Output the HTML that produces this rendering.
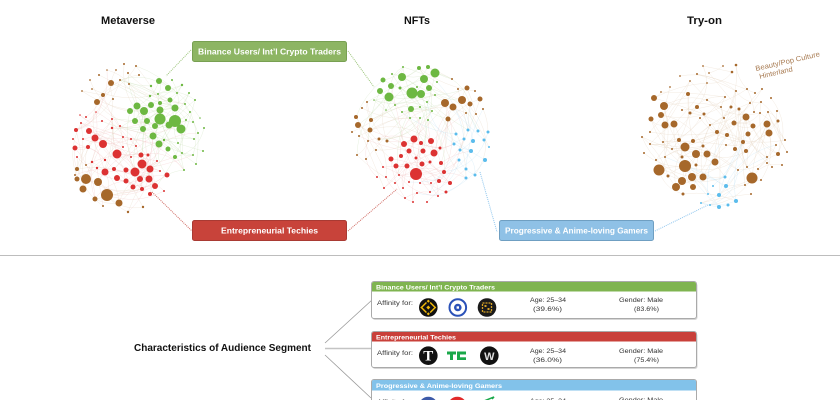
<!DOCTYPE html>
<html><head><meta charset="utf-8">
<style>
html,body{margin:0;padding:0;background:#fff;}
body{width:840px;height:400px;overflow:hidden;}
svg{display:block;font-family:"Liberation Sans",sans-serif;}
</style></head>
<body>
<svg id="s" width="840" height="400" viewBox="0 0 840 400" xmlns="http://www.w3.org/2000/svg">
<rect width="840" height="400" fill="#fff"/>

<!-- titles -->
<text x="101" y="24" font-size="11" font-weight="bold" fill="#111" textLength="54" lengthAdjust="spacingAndGlyphs">Metaverse</text>
<text x="404" y="24" font-size="11" font-weight="bold" fill="#111" textLength="26" lengthAdjust="spacingAndGlyphs">NFTs</text>
<text x="687" y="24" font-size="11" font-weight="bold" fill="#111" textLength="35" lengthAdjust="spacingAndGlyphs">Try-on</text>

<!-- dotted connectors -->
<g fill="none" stroke-width="1" stroke-dasharray="1 1">
<line x1="191" y1="50" x2="166" y2="76" stroke="#9cc57a"/>
<line x1="348" y1="51" x2="374" y2="87" stroke="#9cc57a"/>
<line x1="152" y1="192" x2="192" y2="231" stroke="#d06a62"/>
<line x1="348" y1="231" x2="397" y2="189" stroke="#d06a62"/>
<line x1="480" y1="172" x2="497" y2="232" stroke="#8fc6ee"/>
<line x1="655" y1="231" x2="708" y2="205" stroke="#8fc6ee"/>
</g>

<!-- Metaverse network -->
<g class="net">
<g fill="#a6682b">
<circle cx="111" cy="83" r="3"/><circle cx="103" cy="95" r="2"/><circle cx="97" cy="102" r="3"/><circle cx="124" cy="64" r="1"/><circle cx="136" cy="66" r="1"/><circle cx="116" cy="70" r="0.9"/><circle cx="107" cy="70" r="0.8"/><circle cx="99" cy="75" r="1"/><circle cx="139" cy="75" r="1"/><circle cx="90" cy="80" r="0.9"/><circle cx="113" cy="99" r="1"/><circle cx="120" cy="80" r="1"/><circle cx="128" cy="73" r="1"/><circle cx="82" cy="91" r="0.9"/><circle cx="92" cy="89" r="0.9"/><circle cx="129" cy="84" r="1"/>
<circle cx="86" cy="179" r="5"/><circle cx="98" cy="182" r="4"/><circle cx="77" cy="179" r="2.5"/><circle cx="83" cy="189" r="3.5"/><circle cx="77" cy="169" r="2"/><circle cx="107" cy="195" r="6"/><circle cx="119" cy="203" r="3.5"/><circle cx="95" cy="199" r="2.5"/><circle cx="128" cy="212" r="1.2"/><circle cx="143" cy="207" r="1.2"/><circle cx="103" cy="206" r="1"/><circle cx="75" cy="175" r="1"/><circle cx="86" cy="165" r="1"/>
</g>
<g fill="#6db842">
<circle cx="159" cy="81" r="3"/><circle cx="168" cy="88" r="3"/><circle cx="151" cy="86" r="1.2"/><circle cx="182" cy="85" r="1.2"/><circle cx="170" cy="100" r="2.5"/><circle cx="160" cy="103" r="2"/><circle cx="150" cy="96" r="1.2"/><circle cx="175" cy="108" r="3.5"/><circle cx="137" cy="106" r="3.5"/><circle cx="130" cy="111" r="3"/><circle cx="144" cy="111" r="4"/><circle cx="151" cy="105" r="3"/><circle cx="160" cy="110" r="3.5"/><circle cx="160" cy="119" r="5.5"/><circle cx="175" cy="121" r="6"/><circle cx="169" cy="125" r="3.5"/><circle cx="181" cy="129" r="4.5"/><circle cx="135" cy="121" r="3"/><circle cx="147" cy="121" r="3"/><circle cx="155" cy="126" r="3"/><circle cx="143" cy="129" r="3"/><circle cx="153" cy="136" r="3.5"/><circle cx="159" cy="144" r="3.5"/><circle cx="168" cy="149" r="2.5"/><circle cx="175" cy="157" r="2"/><circle cx="185" cy="104" r="1"/><circle cx="189" cy="93" r="1"/><circle cx="195" cy="100" r="1"/><circle cx="198" cy="133" r="1"/><circle cx="204" cy="128" r="1"/><circle cx="193" cy="122" r="1"/><circle cx="186" cy="120" r="1"/><circle cx="194" cy="139" r="1"/><circle cx="182" cy="153" r="1"/><circle cx="203" cy="151" r="1"/><circle cx="193" cy="155" r="1"/><circle cx="184" cy="170" r="1"/><circle cx="196" cy="164" r="1"/><circle cx="164" cy="140" r="1.2"/><circle cx="177" cy="93" r="1"/><circle cx="158" cy="94" r="1"/><circle cx="172" cy="80" r="1"/><circle cx="190" cy="112" r="1"/><circle cx="200" cy="118" r="0.8"/><circle cx="178" cy="143" r="1"/>
</g>
<g fill="#dc3232">
<circle cx="76" cy="130" r="2"/><circle cx="89" cy="131" r="3"/><circle cx="95" cy="138" r="3.5"/><circle cx="103" cy="144" r="4"/><circle cx="75" cy="148" r="2.5"/><circle cx="88" cy="147" r="2"/><circle cx="117" cy="154" r="4.5"/><circle cx="141" cy="155" r="2.5"/><circle cx="148" cy="155" r="1.5"/><circle cx="142" cy="164" r="4.5"/><circle cx="150" cy="169" r="3.5"/><circle cx="135" cy="172" r="4.5"/><circle cx="126" cy="170" r="2.5"/><circle cx="114" cy="169" r="2"/><circle cx="105" cy="172" r="3.5"/><circle cx="117" cy="178" r="3"/><circle cx="126" cy="181" r="2.5"/><circle cx="140" cy="179" r="3"/><circle cx="149" cy="179" r="3.5"/><circle cx="167" cy="175" r="2.5"/><circle cx="133" cy="187" r="2.5"/><circle cx="142" cy="189" r="2"/><circle cx="155" cy="186" r="3"/><circle cx="150" cy="194" r="2"/><circle cx="86" cy="117" r="1"/><circle cx="81" cy="123" r="1"/><circle cx="73" cy="139" r="1"/><circle cx="83" cy="139" r="1"/><circle cx="77" cy="157" r="1"/><circle cx="102" cy="121" r="1"/><circle cx="112" cy="119" r="1"/><circle cx="120" cy="126" r="1"/><circle cx="112" cy="128" r="1.2"/><circle cx="123" cy="137" r="1"/><circle cx="131" cy="139" r="1"/><circle cx="136" cy="146" r="1"/><circle cx="105" cy="160" r="1.2"/><circle cx="92" cy="162" r="1.2"/><circle cx="97" cy="168" r="1.2"/><circle cx="157" cy="161" r="1"/><circle cx="131" cy="157" r="1"/><circle cx="123" cy="147" r="1"/><circle cx="164" cy="191" r="1"/><circle cx="80" cy="115" r="0.8"/><circle cx="96" cy="112" r="0.8"/><circle cx="160" cy="171" r="1"/>
</g>
</g>

<!-- NFTs network -->
<g class="net">
<g fill="#6db842">
<circle cx="383" cy="80" r="2.5"/><circle cx="402" cy="77" r="4"/><circle cx="419" cy="68" r="2"/><circle cx="428" cy="67" r="2"/><circle cx="435" cy="73" r="4.5"/><circle cx="424" cy="79" r="4"/><circle cx="391" cy="86" r="3"/><circle cx="380" cy="91" r="3"/><circle cx="389" cy="97" r="4.5"/><circle cx="412" cy="93" r="5.5"/><circle cx="421" cy="94" r="4"/><circle cx="429" cy="88" r="3"/><circle cx="411" cy="109" r="3"/><circle cx="403" cy="67" r="1"/><circle cx="400" cy="88" r="1.5"/><circle cx="392" cy="74" r="1"/><circle cx="437" cy="82" r="1"/><circle cx="417" cy="87" r="1"/><circle cx="427" cy="102" r="1"/><circle cx="420" cy="107" r="1"/><circle cx="432" cy="111" r="1"/><circle cx="410" cy="118" r="1"/><circle cx="420" cy="118" r="1"/><circle cx="428" cy="120" r="1"/><circle cx="402" cy="112" r="1"/><circle cx="395" cy="105" r="1"/><circle cx="435" cy="95" r="1"/><circle cx="386" cy="110" r="0.8"/><circle cx="374" cy="100" r="0.8"/>
</g>
<g fill="#a6682b">
<circle cx="445" cy="103" r="4"/><circle cx="453" cy="107" r="3.5"/><circle cx="462" cy="100" r="4"/><circle cx="467" cy="88" r="2.5"/><circle cx="470" cy="104" r="2.5"/><circle cx="480" cy="99" r="2.5"/><circle cx="448" cy="119" r="2.5"/><circle cx="356" cy="117" r="2"/><circle cx="358" cy="125" r="3"/><circle cx="371" cy="120" r="2"/><circle cx="370" cy="130" r="2.5"/><circle cx="387" cy="141" r="1.5"/><circle cx="379" cy="139" r="1.5"/><circle cx="483" cy="109" r="1"/><circle cx="452" cy="79" r="1"/><circle cx="458" cy="89" r="1"/><circle cx="475" cy="91" r="1"/><circle cx="476" cy="114" r="1"/><circle cx="466" cy="113" r="1"/><circle cx="357" cy="155" r="1"/><circle cx="366" cy="159" r="1"/><circle cx="359" cy="136" r="1"/><circle cx="368" cy="141" r="1"/><circle cx="367" cy="102" r="1"/><circle cx="376" cy="150" r="1"/><circle cx="352" cy="132" r="1"/><circle cx="362" cy="108" r="1"/>
</g>
<g fill="#dc3232">
<circle cx="414" cy="139" r="3.5"/><circle cx="404" cy="144" r="3"/><circle cx="421" cy="143" r="2"/><circle cx="431" cy="141" r="3"/><circle cx="409" cy="151" r="2.5"/><circle cx="423" cy="151" r="2.5"/><circle cx="434" cy="153" r="3.5"/><circle cx="391" cy="159" r="2.5"/><circle cx="401" cy="156" r="2"/><circle cx="416" cy="158" r="1.5"/><circle cx="396" cy="166" r="2.5"/><circle cx="407" cy="166" r="2.5"/><circle cx="422" cy="164" r="2.5"/><circle cx="430" cy="162" r="1.5"/><circle cx="441" cy="163" r="2"/><circle cx="416" cy="174" r="6"/><circle cx="440" cy="148" r="1.5"/><circle cx="444" cy="172" r="2"/><circle cx="439" cy="181" r="2"/><circle cx="450" cy="183" r="2"/><circle cx="446" cy="192" r="1.5"/><circle cx="383" cy="167" r="1"/><circle cx="377" cy="177" r="1"/><circle cx="386" cy="177" r="1"/><circle cx="399" cy="175" r="1"/><circle cx="395" cy="183" r="1"/><circle cx="384" cy="188" r="1"/><circle cx="403" cy="188" r="1"/><circle cx="409" cy="182" r="1"/><circle cx="420" cy="183" r="1"/><circle cx="431" cy="183" r="1"/><circle cx="430" cy="192" r="1"/><circle cx="438" cy="196" r="1"/><circle cx="413" cy="202" r="1"/><circle cx="427" cy="202" r="1"/><circle cx="405" cy="198" r="1"/><circle cx="417" cy="193" r="1"/>
</g>
<g fill="#5bbcec">
<circle cx="473" cy="141" r="2"/><circle cx="471" cy="151" r="2"/><circle cx="485" cy="160" r="2"/><circle cx="468" cy="130" r="1.5"/><circle cx="478" cy="131" r="1.5"/><circle cx="488" cy="132" r="1.5"/><circle cx="484" cy="140" r="1.5"/><circle cx="464" cy="139" r="1.5"/><circle cx="456" cy="134" r="1.5"/><circle cx="460" cy="150" r="1.5"/><circle cx="454" cy="144" r="1.5"/><circle cx="459" cy="160" r="1.5"/><circle cx="466" cy="169" r="1.5"/><circle cx="475" cy="175" r="1.5"/><circle cx="466" cy="178" r="1.5"/><circle cx="489" cy="147" r="1"/>
</g>
</g>

<!-- Try-on network -->
<g class="net">
<g fill="#a6682b">
<circle cx="654" cy="98" r="3"/><circle cx="664" cy="106" r="4"/><circle cx="661" cy="115" r="3"/><circle cx="651" cy="119" r="2.5"/><circle cx="665" cy="125" r="3.5"/><circle cx="674" cy="124" r="3.5"/><circle cx="746" cy="117" r="3.5"/><circle cx="767" cy="124" r="3.5"/><circle cx="769" cy="133" r="3.5"/><circle cx="753" cy="126" r="2.5"/><circle cx="748" cy="134" r="2.5"/><circle cx="734" cy="123" r="2.5"/><circle cx="717" cy="132" r="2"/><circle cx="727" cy="135" r="2"/><circle cx="743" cy="142" r="2"/><circle cx="735" cy="149" r="2"/><circle cx="746" cy="151" r="2"/><circle cx="685" cy="147" r="4.5"/><circle cx="696" cy="154" r="4"/><circle cx="707" cy="154" r="3.5"/><circle cx="693" cy="141" r="2"/><circle cx="703" cy="146" r="1.5"/><circle cx="679" cy="140" r="2"/><circle cx="659" cy="170" r="5.5"/><circle cx="685" cy="166" r="6"/><circle cx="692" cy="177" r="4"/><circle cx="703" cy="177" r="3.5"/><circle cx="715" cy="162" r="3.5"/><circle cx="682" cy="181" r="4"/><circle cx="676" cy="187" r="4"/><circle cx="693" cy="187" r="3"/><circle cx="683" cy="194" r="1.5"/><circle cx="696" cy="165" r="1.5"/><circle cx="668" cy="176" r="1.5"/><circle cx="682" cy="157" r="1.5"/><circle cx="752" cy="178" r="5.5"/><circle cx="688" cy="94" r="2"/><circle cx="697" cy="107" r="2"/><circle cx="704" cy="114" r="1.5"/><circle cx="690" cy="113" r="1.5"/><circle cx="778" cy="154" r="2"/><circle cx="778" cy="121" r="1.5"/><circle cx="731" cy="107" r="1.5"/><circle cx="739" cy="109" r="1.5"/><circle cx="754" cy="112" r="1"/><circle cx="760" cy="113" r="1"/>
<circle cx="736" cy="65" r="1.3"/><circle cx="732" cy="72" r="1.3"/><circle cx="723" cy="66" r="0.9"/><circle cx="703" cy="66" r="0.9"/><circle cx="697" cy="74" r="1"/><circle cx="709" cy="73" r="0.9"/><circle cx="690" cy="81" r="0.9"/><circle cx="707" cy="83" r="0.9"/><circle cx="680" cy="76" r="0.9"/><circle cx="670" cy="87" r="0.9"/><circle cx="661" cy="92" r="0.9"/><circle cx="682" cy="110" r="1"/><circle cx="707" cy="100" r="1"/><circle cx="721" cy="107" r="1"/><circle cx="736" cy="91" r="1"/><circle cx="747" cy="89" r="1"/><circle cx="755" cy="93" r="1"/><circle cx="762" cy="89" r="1"/><circle cx="771" cy="98" r="1"/><circle cx="761" cy="102" r="1"/><circle cx="750" cy="103" r="1"/><circle cx="768" cy="112" r="1"/><circle cx="777" cy="111" r="1"/><circle cx="725" cy="97" r="1"/><circle cx="642" cy="137" r="1"/><circle cx="650" cy="144" r="1"/><circle cx="665" cy="157" r="1"/><circle cx="672" cy="149" r="1"/><circle cx="726" cy="145" r="1"/><circle cx="761" cy="180" r="1"/><circle cx="751" cy="194" r="1"/><circle cx="738" cy="170" r="1"/><circle cx="747" cy="167" r="1"/><circle cx="758" cy="169" r="1"/><circle cx="767" cy="163" r="1"/><circle cx="745" cy="185" r="1"/><circle cx="644" cy="153" r="1"/><circle cx="650" cy="132" r="1"/><circle cx="785" cy="140" r="1"/><circle cx="782" cy="165" r="1"/><circle cx="787" cy="152" r="1"/><circle cx="767" cy="157" r="1"/><circle cx="772" cy="167" r="1"/><circle cx="776" cy="145" r="1"/><circle cx="700" cy="118" r="1"/><circle cx="710" cy="125" r="1"/><circle cx="724" cy="118" r="1"/><circle cx="663" cy="142" r="1"/><circle cx="656" cy="160" r="1"/>
</g>
<g fill="#5bbcec">
<circle cx="725" cy="177" r="1.5"/><circle cx="726" cy="186" r="2"/><circle cx="719" cy="195" r="2"/><circle cx="736" cy="201" r="2"/><circle cx="719" cy="207" r="2"/><circle cx="728" cy="205" r="1.5"/><circle cx="713" cy="186" r="1"/><circle cx="708" cy="194" r="1"/><circle cx="701" cy="203" r="1"/><circle cx="710" cy="205" r="1"/>
</g>
</g>

<!-- Beauty label -->
<g transform="translate(756,71) rotate(-13)" fill="#a87b52" font-size="7.2">
<text x="0" y="0" textLength="66" lengthAdjust="spacingAndGlyphs">Beauty/Pop Culture</text>
<text x="2" y="8.5" textLength="34" lengthAdjust="spacingAndGlyphs">Hinterland</text>
</g>

<!-- segment boxes -->
<rect x="192.5" y="41.5" width="154" height="20" rx="2" fill="#8db563" stroke="#78a052"/>
<text x="269.5" y="54.5" font-size="7.8" font-weight="bold" fill="#fff" text-anchor="middle" textLength="143" lengthAdjust="spacingAndGlyphs">Binance Users/ Int’l Crypto Traders</text>
<rect x="192.5" y="220.5" width="154" height="20" rx="2" fill="#c8433a" stroke="#a93a33"/>
<text x="269.5" y="233.5" font-size="7.8" font-weight="bold" fill="#fff" text-anchor="middle" textLength="97" lengthAdjust="spacingAndGlyphs">Entrepreneurial Techies</text>
<rect x="499.5" y="220.5" width="154" height="20" rx="2" fill="#8fc1e6" stroke="#6f9fc2"/>
<text x="576.5" y="233.5" font-size="7.8" font-weight="bold" fill="#fff" text-anchor="middle" textLength="143" lengthAdjust="spacingAndGlyphs">Progressive &amp; Anime-loving Gamers</text>

<!-- separator -->
<line x1="0" y1="255.5" x2="840" y2="255.5" stroke="#bdbdbd" stroke-width="1"/>

<!-- characteristics label -->
<text x="134" y="351" font-size="10.5" font-weight="bold" fill="#111" textLength="177" lengthAdjust="spacingAndGlyphs">Characteristics of Audience Segment</text>
<g stroke="#999" stroke-width="0.8" fill="none">
<line x1="325" y1="343" x2="372" y2="300"/>
<line x1="325" y1="355" x2="371" y2="398"/>
</g>
<line x1="325" y1="348.5" x2="372" y2="348.5" stroke="#c4c4c4" stroke-width="1.6"/>

<!-- card 1 -->
<rect x="372.5" y="283" width="325" height="37" rx="2.5" fill="#d6d6d6"/>
<rect x="371.5" y="281.5" width="325" height="37" rx="2.5" fill="#fff" stroke="#aaa"/>
<path d="M372,291.5 V284 a2,2 0 0 1 2,-2 H694 a2,2 0 0 1 2,2 V291.5 Z" fill="#7fb450"/>
<text x="376" y="289.5" font-size="6.6" font-weight="bold" fill="#fff" textLength="119" lengthAdjust="spacingAndGlyphs">Binance Users/ Int’l Crypto Traders</text>
<text x="377" y="305" font-size="6.5" fill="#333" textLength="36" lengthAdjust="spacingAndGlyphs">Affinity for:</text>
<text x="530" y="302" font-size="6.5" fill="#333" textLength="36" lengthAdjust="spacingAndGlyphs">Age: 25–34</text>
<text x="533" y="311" font-size="6.5" fill="#333" textLength="29" lengthAdjust="spacingAndGlyphs">(39.6%)</text>
<text x="619" y="302" font-size="6.5" fill="#333" textLength="44" lengthAdjust="spacingAndGlyphs">Gender: Male</text>
<text x="634" y="311" font-size="6.5" fill="#333" textLength="25" lengthAdjust="spacingAndGlyphs">(83.6%)</text>
<!-- binance icon -->
<circle cx="428.3" cy="307.5" r="9.3" fill="#111"/>
<g transform="translate(428.3,307.5) rotate(45)" fill="#f0b90b">
<rect x="-1.4" y="-1.4" width="2.8" height="2.8"/>
<rect x="-5.6" y="-5.6" width="2.2" height="2.2"/>
<rect x="3.4" y="3.4" width="2.2" height="2.2"/>
<rect x="-5.6" y="-2.2" width="1.5" height="7.8"/>
<rect x="4.1" y="-5.6" width="1.5" height="7.8"/>
<rect x="-2.2" y="-5.6" width="7.8" height="1.5"/>
<rect x="-5.6" y="4.1" width="7.8" height="1.5"/>
</g>
<!-- coinbase icon -->
<circle cx="457.8" cy="307.5" r="8.3" fill="#fff" stroke="#2b52b8" stroke-width="2"/>
<circle cx="457.8" cy="307.5" r="3.8" fill="#2b52b8"/>
<rect x="456.6" y="306.3" width="2.4" height="2.4" fill="#fff"/>
<!-- third icon -->
<circle cx="487" cy="307.5" r="9.3" fill="#1a1a1a"/>
<rect x="482.5" y="303" width="9" height="9" fill="none" stroke="#d4a024" stroke-width="1.3" stroke-dasharray="2 1"/>
<rect x="484.5" y="305" width="2" height="2" fill="#d4a024"/>
<rect x="487.5" y="308" width="2" height="2" fill="#d4a024"/>

<!-- card 2 -->
<rect x="372.5" y="333" width="325" height="36" rx="2.5" fill="#d6d6d6"/>
<rect x="371.5" y="331.5" width="325" height="36" rx="2.5" fill="#fff" stroke="#aaa"/>
<path d="M372,341.5 V334 a2,2 0 0 1 2,-2 H694 a2,2 0 0 1 2,2 V341.5 Z" fill="#c9403a"/>
<text x="376" y="339.5" font-size="6.6" font-weight="bold" fill="#fff" textLength="80" lengthAdjust="spacingAndGlyphs">Entrepreneurial Techies</text>
<text x="377" y="355" font-size="6.5" fill="#333" textLength="36" lengthAdjust="spacingAndGlyphs">Affinity for:</text>
<text x="530" y="353" font-size="6.5" fill="#333" textLength="36" lengthAdjust="spacingAndGlyphs">Age: 25–34</text>
<text x="533" y="362" font-size="6.5" fill="#333" textLength="29" lengthAdjust="spacingAndGlyphs">(36.0%)</text>
<text x="619" y="353" font-size="6.5" fill="#333" textLength="44" lengthAdjust="spacingAndGlyphs">Gender: Male</text>
<text x="634" y="362" font-size="6.5" fill="#333" textLength="25" lengthAdjust="spacingAndGlyphs">(75.4%)</text>
<circle cx="428.3" cy="355.7" r="9.3" fill="#111"/>
<text x="428.3" y="360.7" font-family="Liberation Serif,serif" font-size="15" font-weight="bold" fill="#fff" text-anchor="middle">T</text>
<g fill="#1aa84a">
<rect x="447" y="351.5" width="9" height="3"/>
<rect x="450" y="354.5" width="3" height="5.5"/>
<rect x="457" y="351.5" width="9" height="3"/>
<rect x="457" y="354.5" width="3" height="3"/>
<rect x="457" y="357.3" width="9" height="2.7"/>
</g>
<circle cx="489.3" cy="355.7" r="9.3" fill="#111"/>
<text x="489.3" y="360" font-size="11" font-weight="bold" fill="#ddd" text-anchor="middle">W</text>

<!-- card 3 -->
<rect x="371.5" y="379.5" width="325" height="30" rx="2.5" fill="#fff" stroke="#aaa"/>
<path d="M372,390.5 V382 a2,2 0 0 1 2,-2 H694 a2,2 0 0 1 2,2 V390.5 Z" fill="#82c2ea"/>
<text x="376" y="388" font-size="6.6" font-weight="bold" fill="#fff" textLength="126" lengthAdjust="spacingAndGlyphs">Progressive &amp; Anime-loving Gamers</text>
<text x="377" y="404" font-size="6.5" fill="#333" textLength="36" lengthAdjust="spacingAndGlyphs">Affinity for:</text>
<text x="530" y="403" font-size="6.5" fill="#333" textLength="36" lengthAdjust="spacingAndGlyphs">Age: 25–34</text>
<text x="619" y="402" font-size="6.5" fill="#333" textLength="44" lengthAdjust="spacingAndGlyphs">Gender: Male</text>
<circle cx="428.3" cy="406" r="9.3" fill="#3d5aa8"/>
<circle cx="457.3" cy="406" r="9.3" fill="#e22a2a"/>
<path d="M484,401 L494,397 L492,399" fill="none" stroke="#1aa84a" stroke-width="1.5"/>
</svg>
<script>
(function(){
var s=document.getElementById('s'),NS='http://www.w3.org/2000/svg';
var seed=12345;function r(){seed=(seed*1664525+1013904223)%4294967296;return seed/4294967296;}
var ec={'#6db842':'#c3ddb0','#dc3232':'#f0bcbc','#a6682b':'#e0cdb7','#5bbcec':'#b3dcf3'};
var nets=s.querySelectorAll('g.net');
for(var n=0;n<nets.length;n++){
 var net=nets[n],cs=net.querySelectorAll('circle'),P=[];
 for(var i=0;i<cs.length;i++){P.push({x:+cs[i].getAttribute('cx'),y:+cs[i].getAttribute('cy'),r:+cs[i].getAttribute('r'),c:cs[i].parentNode.getAttribute('fill')});}
 var g=document.createElementNS(NS,'g');g.setAttribute('fill','none');g.setAttribute('stroke-width','0.4');
 for(var i=0;i<P.length;i++){
  var k=1+Math.floor(P[i].r*0.6);
  for(var t=0;t<k;t++){
   for(var a=0;a<25;a++){
    var j=Math.floor(r()*P.length);if(j==i)continue;
    var dx=P[j].x-P[i].x,dy=P[j].y-P[i].y,L=Math.sqrt(dx*dx+dy*dy);
    if(L<70&&L>4){
     var b=(r()-0.5)*0.7;
     var cx=(P[i].x+P[j].x)/2-dy*b,cy=(P[i].y+P[j].y)/2+dx*b;
     var p=document.createElementNS(NS,'path');
     p.setAttribute('d','M'+P[i].x+','+P[i].y+' Q'+cx.toFixed(1)+','+cy.toFixed(1)+' '+P[j].x+','+P[j].y);
     p.setAttribute('stroke',ec[P[i].c]||'#ddd');p.setAttribute('stroke-opacity','0.5');
     g.appendChild(p);break;
    }
   }
  }
 }
 net.insertBefore(g,net.firstChild);
}
})();
</script>
</body></html>
